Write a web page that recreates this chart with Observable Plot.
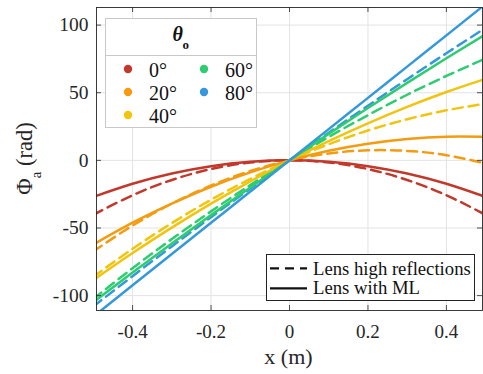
<!DOCTYPE html>
<html>
<head>
<meta charset="utf-8">
<script src="https://cdn.jsdelivr.net/npm/d3@7"></script>
<script src="https://cdn.jsdelivr.net/npm/@observablehq/plot@0.6"></script>
<style>
  body { margin: 0; background: #fff; }
  #wrap { position: relative; width: 483px; height: 374px; font-family: 'Liberation Serif', 'DejaVu Serif', serif; }
  #wrap svg text { font-family: 'Liberation Serif', 'DejaVu Serif', serif !important; }
  .lg1 { position: absolute; left: 105px; top: 18px; width: 152px; height: 110px; border: 1px solid #c8c8c8; background: #fff; box-sizing: border-box; }
  .lg2 { position: absolute; left: 266px; top: 254px; width: 209px; height: 47px; border: 1px solid #222; background: #fff; box-sizing: border-box; }
</style>
</head>
<body>
<div id="wrap"></div>
<script>
// ---- data ----
const xs = [-0.5, -0.4, -0.3, -0.2, -0.1, 0, 0.1, 0.2, 0.3, 0.4, 0.5];
const thetaLabels = ["0°", "20°", "40°", "60°", "80°"];
const colors = ["#c0392b", "#f39c12", "#f1c40f", "#2ecc71", "#3498db"];
// Lens with ML (solid)
const solid0  = [-27.0, -17.3, -9.7, -4.3, -1.1, 0, -1.1, -4.3, -9.7, -17.3, -27.0];
const solid20 = [-62.2, -46.1, -32.0, -19.5, -8.9, 0, 7.1, 12.3, 15.8, 17.5, 17.4];
const solid40 = [-88.5, -68.5, -49.7, -32.0, -15.5, 0, 14.3, 27.4, 39.5, 50.5, 60.3];
const solid60 = [-104.8, -82.9, -61.5, -40.5, -20.0, 0, 19.6, 38.7, 57.3, 75.5, 93.2];
const solid80 = [-115.5, -92.4, -69.3, -46.2, -23.1, 0, 23.1, 46.2, 69.3, 92.4, 115.5];
// Lens high reflections (dashed)
const dash0  = [-40.3, -25.8, -14.5, -6.4, -1.6, 0, -1.6, -6.4, -14.5, -25.8, -40.3];
const dash20 = [-67.3, -48.2, -32.0, -18.6, -7.9, 0, 5.1, 7.4, 7.0, 3.8, -2.3];
const dash40 = [-86.1, -65.4, -46.4, -29.1, -13.7, 0, 11.9, 22.1, 30.4, 37.0, 41.9];
const dash60 = [-102.4, -79.7, -58.2, -37.7, -18.3, 0, 17.3, 33.4, 48.5, 62.4, 75.4];
const dash80 = [-108.0, -85.6, -63.6, -42.0, -20.8, 0, 20.4, 40.4, 60.0, 79.2, 98.0];
const xTicks = [-0.4, -0.2, 0, 0.2, 0.4];
const xTickLabels = ["-0.4", "-0.2", "0", "0.2", "0.4"];
const yTicks = [-100, -50, 0, 50, 100];
const yTickLabels = ["-100", "-50", "0", "50", "100"];

const solids = [solid0, solid20, solid40, solid60, solid80];
const dashes = [dash0, dash20, dash40, dash60, dash80];
const rows = [];
solids.forEach((arr, i) => arr.forEach((y, j) => rows.push({x: xs[j], y, theta: thetaLabels[i], kind: "solid"})));
dashes.forEach((arr, i) => arr.forEach((y, j) => rows.push({x: xs[j], y, theta: thetaLabels[i], kind: "dash"})));

const W = 483, H = 374, mL = 96, mR = 1, mT = 7, mB = 64;
const pw = W - mL - mR, ph = H - mT - mB;
const FF = "'Liberation Serif', 'DejaVu Serif', serif";

const plot = Plot.plot({
  width: W, height: H,
  marginLeft: mL, marginRight: mR, marginTop: mT, marginBottom: mB,
  style: { fontFamily: FF, fontSize: "19px", color: "#262626", background: "#fff" },
  x: { domain: [-0.492, 0.492], ticks: xTicks, label: null },
  y: { domain: [-111, 113], ticks: yTicks, label: null },
  color: { domain: thetaLabels, range: colors },
  marks: [
    Plot.gridX(xTicks, { stroke: "#e3e3e3", strokeOpacity: 1, strokeWidth: 1 }),
    Plot.gridY(yTicks, { stroke: "#e3e3e3", strokeOpacity: 1, strokeWidth: 1 }),
    Plot.axisX({ ticks: xTicks, tickSize: 0, tickPadding: 14, tickFormat: d => xTickLabels[xTicks.indexOf(d)], fontSize: 19, fontFamily: FF }),
    Plot.axisY({ ticks: yTicks, tickSize: 0, tickPadding: 8, tickFormat: d => yTickLabels[yTicks.indexOf(d)], fontSize: 19.5, fontFamily: FF }),
    Plot.line(rows.filter(d => d.kind === "dash"), { x: "x", y: "y", z: "theta", stroke: "theta", strokeWidth: 2.5, strokeDasharray: "10,6", curve: "natural", clip: true }),
    Plot.line(rows.filter(d => d.kind === "solid"), { x: "x", y: "y", z: "theta", stroke: "theta", strokeWidth: 2.5, curve: "natural", clip: true }),
    Plot.ruleX(xTicks, { insetTop: ph - 5, stroke: "#262626", strokeWidth: 0.8 }),
    Plot.ruleX(xTicks, { insetBottom: ph - 5, stroke: "#262626", strokeWidth: 0.8 }),
    Plot.ruleY(yTicks, { insetRight: pw - 5, stroke: "#262626", strokeWidth: 0.8 }),
    Plot.ruleY(yTicks, { insetLeft: pw - 5, stroke: "#262626", strokeWidth: 0.8 }),
    Plot.frame({ stroke: "#262626", strokeWidth: 0.9 })
  ]
});

const wrap = document.getElementById("wrap");
wrap.appendChild(plot);

// axis titles
const svg = d3.select(plot);
svg.append("text")
  .attr("x", mL + pw / 2 - 0.5).attr("y", 364)
  .attr("text-anchor", "middle")
  .attr("fill", "#262626")
  .style("font-size", "22px")
  .text("x (m)");
const yl = svg.append("text")
  .attr("transform", `translate(32, ${mT + ph / 2}) rotate(-90)`)
  .attr("text-anchor", "middle")
  .attr("fill", "#262626")
  .style("font-size", "22.5px");
yl.append("tspan").text("Φ");
yl.append("tspan").style("font-size", "15px").attr("dy", 9).text("a");
yl.append("tspan").attr("dy", -9).text(" (rad)");

// legend 1 (theta)
const lg1 = document.createElement("div");
lg1.className = "lg1";
let h1 = `<svg width="152" height="110" style="position:absolute;left:-1px;top:-1px">`;
h1 += `<text x="67.5" y="22.5" style="font-size:20px;font-weight:bold;font-style:italic" fill="#111">θ</text>`;
h1 += `<text x="77.5" y="31" style="font-size:13px;font-weight:bold" fill="#111">o</text>`;
h1 += `<line x1="0" x2="152" y1="37.5" y2="37.5" stroke="#c8c8c8" stroke-width="1"/>`;
const pos = [[23, 51], [23, 74], [23, 97], [99, 51], [99, 74]];
thetaLabels.forEach((t, i) => {
  const [cx, cy] = pos[i];
  h1 += `<circle cx="${cx}" cy="${cy}" r="4.2" fill="${colors[i]}"/>`;
  h1 += `<text x="${cx + 21}" y="${cy + 7.5}" style="font-size:20px" fill="#111">${t}</text>`;
});
h1 += `</svg>`;
lg1.innerHTML = h1;
wrap.appendChild(lg1);

// legend 2 (line style)
const lg2 = document.createElement("div");
lg2.className = "lg2";
let h2 = `<svg width="209" height="47" style="position:absolute;left:-1px;top:-1px">`;
h2 += `<line x1="4" x2="41" y1="14.3" y2="14.3" stroke="#111" stroke-width="2.2" stroke-dasharray="9,6"/>`;
h2 += `<line x1="4" x2="41" y1="34.3" y2="34.3" stroke="#111" stroke-width="2.2"/>`;
h2 += `<text x="47" y="20.5" style="font-size:18.7px" fill="#111">Lens high reflections</text>`;
h2 += `<text x="47" y="40.3" style="font-size:18.7px" fill="#111">Lens with ML</text>`;
h2 += `</svg>`;
lg2.innerHTML = h2;
wrap.appendChild(lg2);
</script>
</body>
</html>
